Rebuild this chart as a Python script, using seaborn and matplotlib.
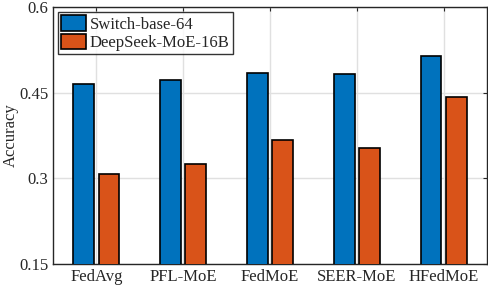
import pandas as pd
import matplotlib
matplotlib.use('Agg')
import matplotlib.pyplot as plt
import seaborn as sns

# data
methods = ['FedAvg', 'PFL-MoE', 'FedMoE', 'SEER-MoE', 'HFedMoE']
switch_acc = [0.465, 0.472, 0.485, 0.482, 0.514]
deepseek_acc = [0.307, 0.325, 0.368, 0.353, 0.442]
models = ['Switch-base-64', 'DeepSeek-MoE-16B']
yticks = [0.15, 0.3, 0.45, 0.6]

df = pd.DataFrame({
    'method': methods * 2,
    'model': [models[0]] * len(methods) + [models[1]] * len(methods),
    'acc': switch_acc + deepseek_acc,
})

sns.set_style('white')
plt.rcParams['font.family'] = ['Liberation Serif', 'DejaVu Serif']

fig = plt.figure(figsize=(4.88, 2.88), dpi=100)
ax = fig.add_axes([0.1086, 0.0833, 0.8894, 0.8924])

sns.barplot(data=df, x='method', y='acc', hue='model', order=methods,
            hue_order=models, palette=['#0072BD', '#D95319'], saturation=1,
            width=0.58, gap=0.17, edgecolor='black', linewidth=1.2,
            ax=ax, zorder=3)

ax.set_ylim(0.15, 0.6)
ax.set_xlim(-0.5, 4.5)
ax.set_yticks(yticks)
ax.set_yticklabels(['0.15', '0.3', '0.45', '0.6'])
ax.set_xlabel('')
ax.set_ylabel('Accuracy', fontsize=12)
ax.yaxis.set_label_coords(-0.078, 0.5)
ax.tick_params(axis='both', labelsize=12, direction='in', length=3,
               width=0.8, top=True, right=True, colors='#262626')
ax.grid(True, color='#e0e0e0', linewidth=1, zorder=0)
ax.set_axisbelow(True)
for s in ax.spines.values():
    s.set_color('#262626')
    s.set_linewidth(1)

leg = ax.legend(loc='upper left', fontsize=12, frameon=True, fancybox=False,
                edgecolor='black', handlelength=1.5, handleheight=1.05,
                borderaxespad=0.3, borderpad=0.2, labelspacing=0.05,
                handletextpad=0.2)
leg.get_frame().set_linewidth(1)

plt.savefig('out.png', dpi=100)
